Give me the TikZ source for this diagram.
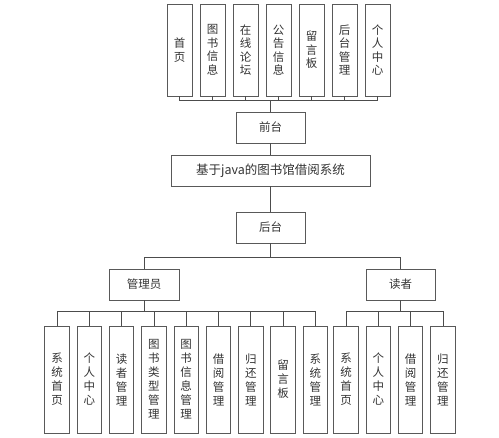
\documentclass[tikz,border=0pt]{standalone}
\usepackage{fontspec}
\setmainfont{Noto Sans CJK SC}
\tikzset{
  box/.style={draw=black!65, line width=0.8pt, inner sep=0pt, align=center, text=black!80,
    font=\fontsize{11.5}{13.5}\selectfont},
  topbox/.style={box, minimum width=25pt, minimum height=92pt},
  leafbox/.style={box, minimum width=24.5pt, minimum height=107pt,
    font=\fontsize{11.5}{14}\selectfont},
  midbox/.style={box, minimum width=69pt, minimum height=31pt},
  link/.style={draw=black!70, line width=0.8pt}
}
\begin{document}
\begin{tikzpicture}[x=1pt,y=-1pt]
  \useasboundingbox (0,0) rectangle (499,438);
  % front end
  \foreach \txt [count=\i] in {首\\页, 图\\书\\信\\息, 在\\线\\论\\坛, 公\\告\\信\\息,
      留\\言\\板, 后\\台\\管\\理, 个\\人\\中\\心}
    \node[topbox] (t\i) at ({179.5+33*(\i-1)},50) {\txt};
  \node[midbox] (qt) at (270.5,127.5) {前台};
  \node[box, minimum width=199pt, minimum height=31pt, font=\fontsize{12.5}{14}\selectfont]
    (sys) at (270.5,170.5) {基于java的图书馆借阅系统};
  \node[midbox] (ht) at (270.5,227.5) {后台};
  % back end
  \node[midbox, minimum width=70pt] (adm) at (144,284.5) {管理员};
  \node[midbox] (rd) at (400.5,284.5) {读者};
  \foreach \txt [count=\i] in {系\\统\\首\\页, 个\\人\\中\\心, 读\\者\\管\\理,
      图\\书\\类\\型\\管\\理, 图\\书\\信\\息\\管\\理, 借\\阅\\管\\理,
      归\\还\\管\\理, 留\\言\\板, 系\\统\\管\\理}
    \node[leafbox] (a\i) at ({57+32.3*(\i-1)},379.5) {\txt};
  \foreach \txt [count=\i] in {系\\统\\首\\页, 个\\人\\中\\心, 借\\阅\\管\\理, 归\\还\\管\\理}
    \node[leafbox] (r\i) at ({346+32.3*(\i-1)},379.5) {\txt};
  % connectors
  \coordinate (busT) at (270.5,100);
  \coordinate (busM) at (270.5,257);
  \coordinate (busA) at (144,311);
  \coordinate (busR) at (400.5,311);
  \foreach \i in {1,...,7}
    \draw[link] (t\i.south) |- (busT);
  \draw[link] (busT) -- (qt.north);
  \draw[link] (qt.south) -- (sys.north);
  \draw[link] (sys.south) -- (ht.north);
  \draw[link] (ht.south) -- (busM);
  \draw[link] (busM) -| (adm.north);
  \draw[link] (busM) -| (rd.north);
  \draw[link] (adm.south) -- (busA);
  \draw[link] (rd.south) -- (busR);
  \foreach \i in {1,...,9}
    \draw[link] (a\i.north) |- (busA);
  \foreach \i in {1,...,4}
    \draw[link] (r\i.north) |- (busR);
\end{tikzpicture}
\end{document}
